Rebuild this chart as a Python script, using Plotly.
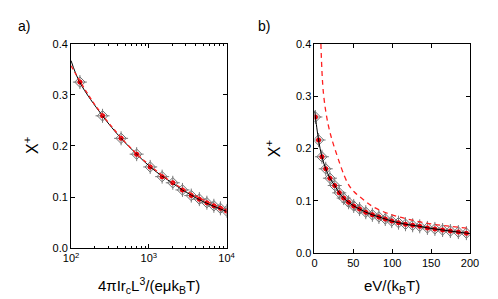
import plotly.graph_objects as go

# ---- panel a) data ----
a_x = [130, 254, 440, 698, 1042, 1484, 2035, 2709, 3517, 4471, 5585, 6869, 8336, 9998]
a_y = [0.325, 0.259, 0.215, 0.184, 0.159, 0.140, 0.128, 0.114, 0.103, 0.096, 0.089, 0.083, 0.078, 0.073]
a_fit_x = [100, 130, 254, 440, 698, 1042, 1484, 2035, 2709, 3517, 4471, 5585, 6869, 8336, 10000]
a_fit_y = [0.367, 0.324, 0.259, 0.215, 0.184, 0.159, 0.141, 0.127, 0.114, 0.104, 0.095, 0.088, 0.082, 0.077, 0.072]
a_dash_x = [100, 200, 500, 1000, 2000, 5000, 10000]
a_dash_y = [0.357, 0.282, 0.207, 0.1635, 0.129, 0.0948, 0.075]

# ---- panel b) data ----
b_x = [1.2, 5.3, 9.6, 14.5, 19.9, 26.1, 31.9, 37.6, 43.9, 50.5, 58, 66, 74.5, 82.9, 91.1,
       99.4, 108.1, 117.1, 126.3, 135.4, 145.3, 154.9, 164.8, 174.8, 185.1, 195.4]
b_y = [0.260, 0.216, 0.184, 0.161, 0.143, 0.129, 0.115, 0.105, 0.097, 0.090, 0.084, 0.078, 0.073,
       0.069, 0.065, 0.061, 0.058, 0.055, 0.053, 0.051, 0.048, 0.046, 0.044, 0.042, 0.040, 0.038]
b_fit_x = [0] + b_x + [200]
b_fit_y = [0.272] + b_y + [0.037]
b_dash_x = [8.3, 11.6, 18, 26.5, 42.6, 51, 61.2, 75.8, 100.6, 125.5, 150.3, 175, 200]
b_dash_y = [0.40, 0.305, 0.243, 0.198, 0.134, 0.117, 0.104, 0.088, 0.0725, 0.063, 0.0555, 0.051, 0.047]

a_tickvals = [100, 1000, 10000]
a_ticktext = ["10<sup>2</sup>", "10<sup>3</sup>", "10<sup>4</sup>"]
a_minor = [200, 300, 400, 500, 600, 700, 800, 900, 2000, 3000, 4000, 5000, 6000, 7000, 8000, 9000]
y_ticks = [0.0, 0.1, 0.2, 0.3, 0.4]
b_ticks = [0, 50, 100, 150, 200]

FONT = "Liberation Sans, Arial, sans-serif"
fig = go.Figure()

def add_markers(x, y, xa, ya):
    fig.add_trace(go.Scatter(x=x, y=y, mode="markers", xaxis=xa, yaxis=ya, showlegend=False,
                             marker=dict(symbol="diamond-open", size=8, color="#6f6f6f", line=dict(width=1, color="#6f6f6f"))))
    fig.add_trace(go.Scatter(x=x, y=y, mode="markers", xaxis=xa, yaxis=ya, showlegend=False,
                             marker=dict(symbol="cross-thin-open", size=10, color="#7a7a7a", line=dict(width=1, color="#7a7a7a"))))
    fig.add_trace(go.Scatter(x=x, y=y, mode="markers", xaxis=xa, yaxis=ya, showlegend=False,
                             marker=dict(symbol="circle", size=5, color="#e8000b", line=dict(width=0))))

add_markers(a_x, a_y, "x", "y")
fig.add_trace(go.Scatter(x=a_fit_x, y=a_fit_y, mode="lines", line=dict(color="black", width=1, shape="spline"),
                         xaxis="x", yaxis="y", showlegend=False))
fig.add_trace(go.Scatter(x=a_dash_x, y=a_dash_y, mode="lines", line=dict(color="#ff2020", width=1.3, dash="4px,3px", shape="spline"),
                         xaxis="x", yaxis="y", showlegend=False))

add_markers(b_x, b_y, "x2", "y2")
fig.add_trace(go.Scatter(x=b_fit_x, y=b_fit_y, mode="lines", line=dict(color="black", width=1, shape="spline"),
                         xaxis="x2", yaxis="y2", showlegend=False))
fig.add_trace(go.Scatter(x=b_dash_x, y=b_dash_y, mode="lines", line=dict(color="#ff2020", width=1.3, dash="5px,4px", shape="spline"),
                         xaxis="x2", yaxis="y2", showlegend=False))

W, H = 498, 299
axis_common = dict(showline=True, linecolor="black", linewidth=1, mirror="allticks", ticks="inside",
                   ticklen=4, tickcolor="black", showgrid=False, zeroline=False,
                   tickfont=dict(family=FONT, size=11, color="black"))

fig.update_layout(
    width=W, height=H, margin=dict(l=0, r=0, t=0, b=0),
    paper_bgcolor="white", plot_bgcolor="white",
    xaxis=dict(type="log", range=[2, 4], domain=[57 / W, 218 / W], anchor="y",
               tickmode="array", tickvals=a_tickvals, ticktext=a_ticktext,
               minor=dict(ticks="inside", ticklen=2.5, tickcolor="black", tickmode="array", tickvals=a_minor, showgrid=False),
               **axis_common),
    yaxis=dict(range=[0, 0.4], domain=[1 - 244 / H, 1 - 31 / H], anchor="x",
               tickmode="array", tickvals=y_ticks, tickformat=".1f", **axis_common),
    xaxis2=dict(range=[0, 200], domain=[309 / W, 470 / W], anchor="y2",
                tickmode="array", tickvals=b_ticks, **axis_common),
    yaxis2=dict(range=[0, 0.4], domain=[1 - 249 / H, 1 - 31 / H], anchor="x2",
                tickmode="array", tickvals=y_ticks, tickformat=".1f", **axis_common),
    font=dict(family=FONT, color="black"),
)

ann = [
    dict(text="a)", x=0, y=12, xanchor="left", size=14),
    dict(text="b)", x=248, y=12, xanchor="left", size=14),
    dict(text="4πIr<sub>c</sub>L<sup>3</sup>/(eμk<sub>B</sub>T)", x=137.5, y=283, xanchor="center", size=15),
    dict(text="eV/(k<sub>B</sub>T)", x=389.5, y=284, xanchor="center", size=15),
]
for a in ann:
    fig.add_annotation(text=a["text"], x=a["x"] / W, y=1 - a["y"] / H, xref="paper", yref="paper",
                       xanchor=a["xanchor"], yanchor="middle", showarrow=False,
                       font=dict(family=FONT, size=a["size"], color="black"))
for xx, yy in [(15, 137), (267, 140)]:
    fig.add_annotation(text="X<sup>+</sup>", x=xx / W, y=1 - yy / H, xref="paper", yref="paper",
                       xanchor="center", yanchor="middle", showarrow=False, textangle=-90,
                       font=dict(family=FONT, size=16, color="black"))

fig.write_html("out.html")
